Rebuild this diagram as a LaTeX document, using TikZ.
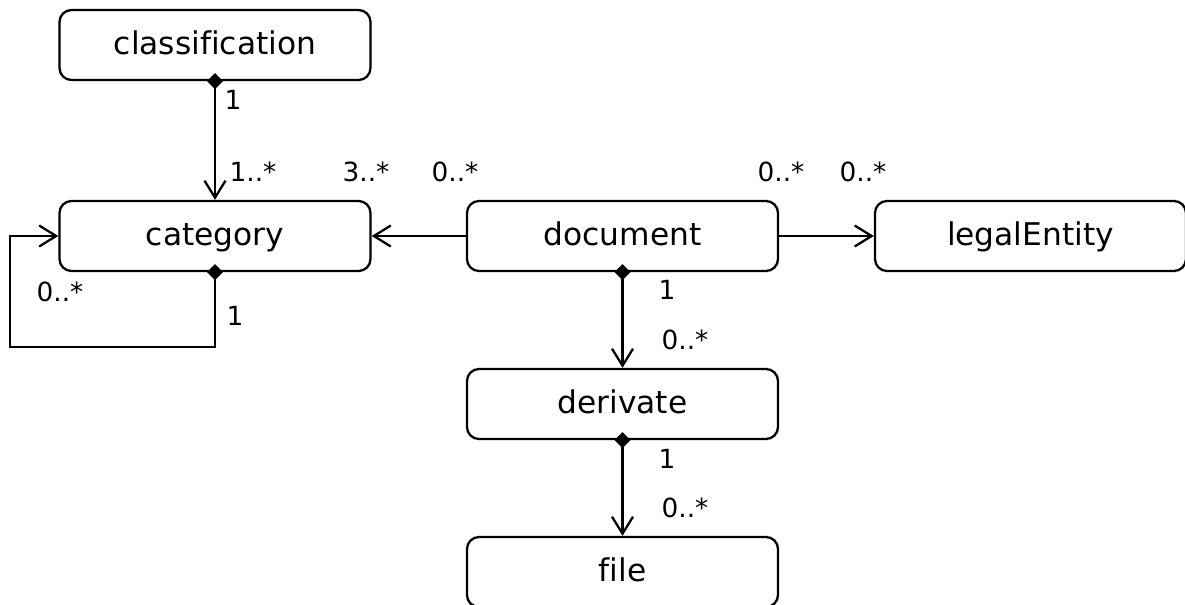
\documentclass[tikz,border=0pt]{standalone}
\usepackage{fontspec}
\setmainfont[Ligatures=NoCommon]{DejaVu Sans}
\usepackage{tikz}
\usetikzlibrary{arrows.meta, positioning}

\begin{document}
\begin{tikzpicture}[
    cls/.style={draw, line width=1.3pt, rounded corners=0.24cm,
      minimum width=6.22cm, minimum height=1.4cm,
      text height=11pt, text depth=0pt,
      font=\fontsize{17.8}{20}\selectfont},
    mult/.style={font=\fontsize{15}{17}\selectfont, inner sep=0pt},
    assoc/.style={line width=1.3pt,
      -{Straight Barb[length=3.4mm, width=4.2mm, line width=1.3pt]}},
    comp/.style={assoc,
      {Diamond[length=3.2mm, width=3.2mm]}-{Straight Barb[length=3.4mm, width=4.2mm, line width=1.3pt]},
      shorten <=-1.6mm}
  ]
  \useasboundingbox (0, 0) rectangle (23.7, 12.08);

  % classes
  \node[cls] (classification) at (4.30, 11.18) {classification};
  \node[cls] (category) at (4.30, 7.36) {category};
  \node[cls] (document) at (12.45, 7.36) {document};
  \node[cls] (legalEntity) at (20.61, 7.36) {legalEntity};
  \node[cls] (derivate) at (12.45, 4.0) {derivate};
  \node[cls] (file) at (12.45, 0.64) {file};

  % associations
  \draw[comp] (classification.south) -- (category.north);
  \draw[assoc] (document.west) -- (category.east);
  \draw[assoc] (document.east) -- (legalEntity.west);
  \draw[comp] (document.south) -- (derivate.north);
  \draw[comp] (derivate.south) -- (file.north);
  \draw[comp] (category.south) -- ++(0, -1.5)
    -| ([xshift=-0.96cm]category.west) -- (category.west);

  % multiplicities
  \node[mult] (clsOne) at (4.66, 10.08) {1};
  \node[mult] (catMany) at (5.06, 8.64) {1..*};
  \node[mult] (docCat) at (7.32, 8.64) {3..*};
  \node[mult] (catDoc) at (9.10, 8.64) {0..*};
  \node[mult] (legDoc) at (15.62, 8.64) {0..*};
  \node[mult] (docLeg) at (17.26, 8.64) {0..*};
  \node[mult] (subMany) at (1.20, 6.24) {0..*};
  \node[mult] (catOne) at (4.70, 5.76) {1};
  \node[mult] (docOne) at (13.34, 6.28) {1};
  \node[mult] (derMany) at (13.70, 5.28) {0..*};
  \node[mult] (derOne) at (13.34, 2.90) {1};
  \node[mult] (fileMany) at (13.70, 1.92) {0..*};
\end{tikzpicture}
\end{document}
